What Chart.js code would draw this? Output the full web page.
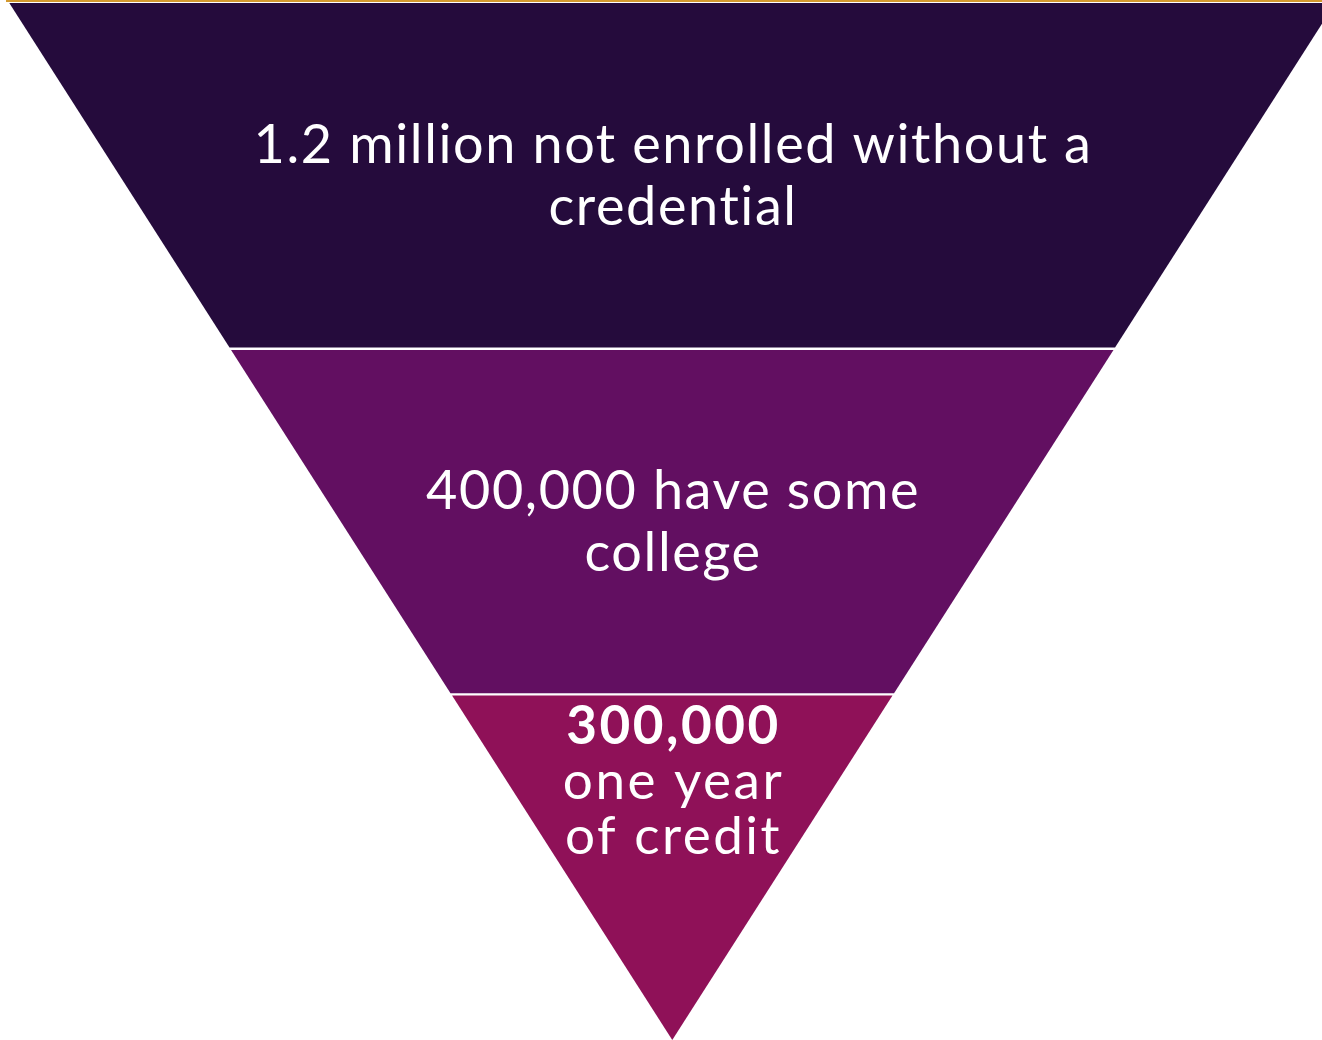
<!DOCTYPE html>
<html>
<head>
<meta charset="utf-8">
<title>Funnel</title>
<script src="https://cdn.jsdelivr.net/npm/chart.js@4.4.0/dist/chart.umd.min.js"></script>
<style>
  html, body { margin: 0; padding: 0; background: #ffffff; }
  #wrap { position: relative; width: 1322px; height: 1040px; overflow: hidden; }
  #topline { position: absolute; left: 6px; right: 0; top: 0; height: 2px; background: #d39a2f; }
</style>
</head>
<body>
<div id="wrap">
  <canvas id="funnel" width="1322" height="1040"></canvas>
  <div id="topline"></div>
</div>
<script>
// stages, top of the funnel first
const stageNames = ['Not enrolled without a credential', 'Some college', 'One year of credit'];
const stageValues = [1200000, 400000, 300000];
const stageLines = [
  ['1.2 million not enrolled without a', 'credential'],
  ['400,000 have some', 'college'],
  ['300,000', 'one year', 'of credit']
];
const stageColors = ['#250b3c', '#620f61', '#8f1158'];

const nBands = stageNames.length;
const gap = 0.007;        // white line between bands (y units)
const topHalf = 1;        // half width of the funnel at its mouth (x units)

const halfWidth = h => h / nBands * topHalf;

// each band is a trapezoid, one unit tall, read through the linear scales
function bandPoints(i) {
  let top = nBands - i;
  let bottom = nBands - i - 1;
  if (i > 0) top -= gap / 2;
  if (bottom > 0) bottom += gap / 2;
  return [
    { x: -halfWidth(top), y: top },
    { x: -halfWidth(bottom), y: bottom },
    { x: halfWidth(bottom), y: bottom },
    { x: halfWidth(top), y: top }
  ];
}

const datasets = stageNames.map((name, i) => ({
  label: name,
  data: bandPoints(i),
  showLine: true,
  fill: 'shape',
  backgroundColor: stageColors[i],
  borderColor: 'rgba(0,0,0,0)',
  borderWidth: 0,
  pointRadius: 0,
  tension: 0
}));

const fontFamily = 'Lato, "Noto Sans", sans-serif';

const bandLabels = {
  id: 'bandLabels',
  afterDatasetsDraw(chart) {
    const { ctx, scales: { x, y } } = chart;
    const cx = x.getPixelForValue(0);
    ctx.save();
    ctx.fillStyle = '#ffffff';
    ctx.textAlign = 'center';
    ctx.textBaseline = 'alphabetic';
    stageLines.forEach((lines, i) => {
      const topPx = y.getPixelForValue(nBands - i);
      const botPx = y.getPixelForValue(nBands - i - 1);
      const last = i === nBands - 1;
      const lh = last ? 55 : 62;
      let base;
      if (last) {
        base = topPx + 50;
      } else {
        base = (topPx + botPx) / 2 - (lines.length - 1) * lh / 2 + 18;
      }
      const spacing = last ? 2.5 : 1.6;
      ctx.letterSpacing = spacing + 'px';
      lines.forEach((txt, k) => {
        const bold = last && k === 0;
        const size = last ? 53 : 54;
        ctx.font = (bold ? 'bold ' : '') + size + 'px ' + fontFamily;
        ctx.fillText(txt, cx + spacing / 2, base + k * lh);
      });
    });
    ctx.restore();
  }
};

new Chart(document.getElementById('funnel').getContext('2d'), {
  type: 'scatter',
  data: { datasets: datasets },
  options: {
    responsive: false,
    animation: false,
    layout: { padding: 0 },
    scales: {
      x: { type: 'linear', min: -1.014, max: 0.98, display: false },
      y: { type: 'linear', min: 0, max: 3.009, display: false }
    },
    plugins: {
      legend: { display: false },
      tooltip: { enabled: false }
    }
  },
  plugins: [bandLabels]
});
</script>
</body>
</html>
